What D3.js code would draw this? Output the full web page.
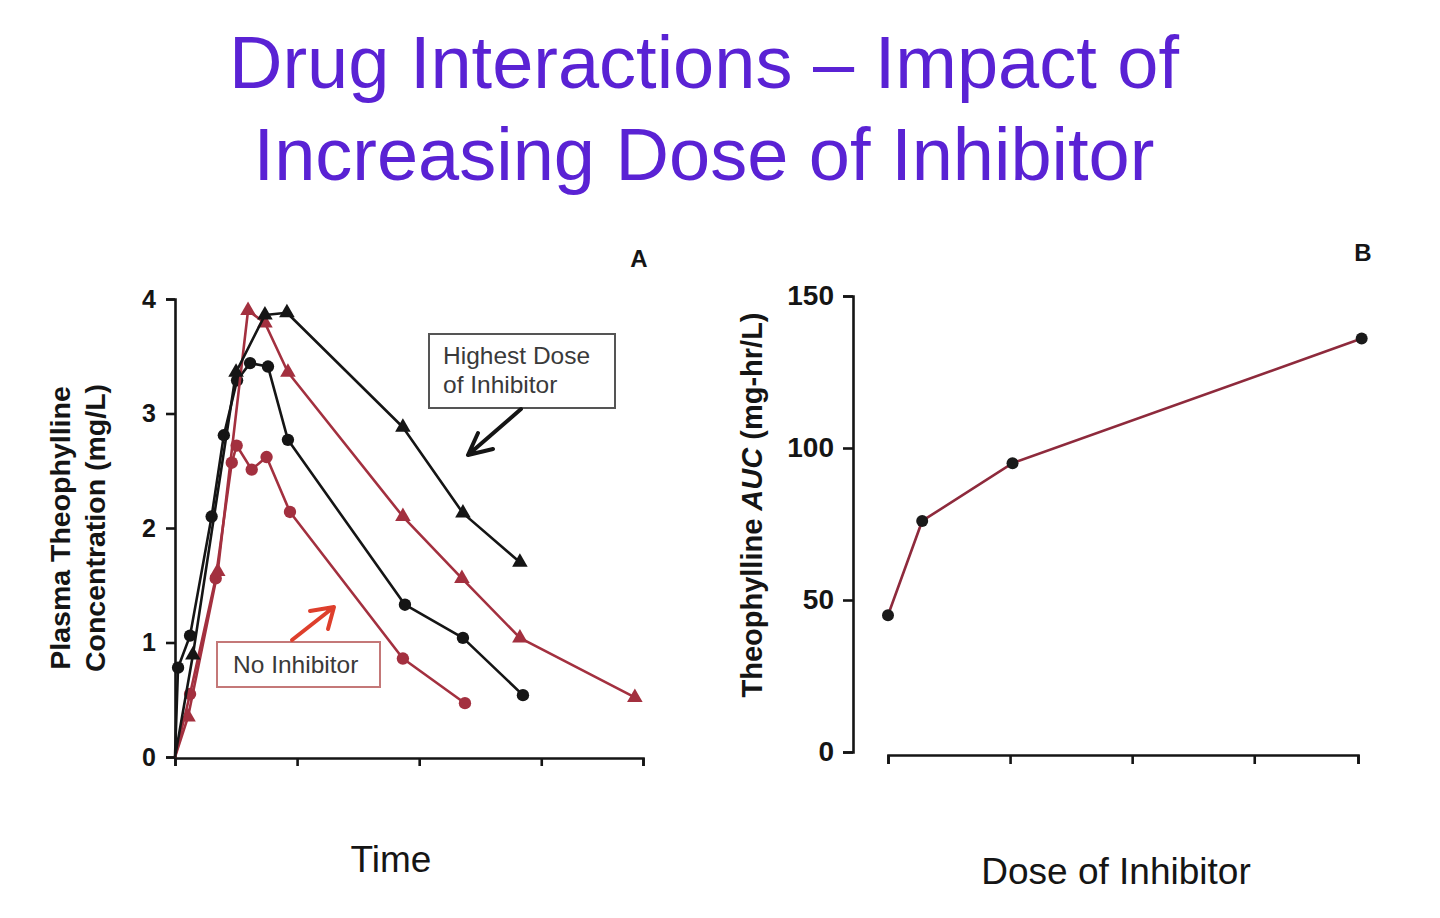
<!DOCTYPE html>
<html>
<head>
<meta charset="utf-8">
<script src="https://cdn.jsdelivr.net/npm/d3@7"></script>
<style>
  html, body { margin: 0; padding: 0; background: #ffffff; }
  svg { display: block; font-family: "Liberation Sans", Arial, sans-serif; }
</style>
</head>
<body>
<svg id="chart" width="1440" height="918"></svg>
<script>
// ---------- DATA ----------
const titleLines = ["Drug Interactions \u2013 Impact of", "Increasing Dose of Inhibitor"];

// Panel A: time-course of plasma theophylline (mg/L)
const timeTicks = [0, 6, 12, 18, 23];
const concTicks = [0, 1, 2, 3, 4];

const noInhibitorTime = [0, 0.74, 2.0, 2.79, 3.03, 3.77, 4.5, 5.65, 11.2, 14.25];
const noInhibitorConc = [0, 0.55, 1.56, 2.57, 2.72, 2.51, 2.62, 2.14, 0.86, 0.47];

const lowDoseTime = [0, 0.15, 0.74, 1.8, 2.4, 3.05, 3.69, 4.57, 5.55, 11.3, 14.15, 17.1];
const lowDoseConc = [0, 0.78, 1.06, 2.10, 2.81, 3.29, 3.44, 3.41, 2.77, 1.33, 1.04, 0.54];

const midDoseTime = [0, 0.64, 2.1, 3.59, 4.42, 5.55, 11.2, 14.1, 16.95, 22.6];
const midDoseConc = [0, 0.35, 1.62, 3.90, 3.79, 3.36, 2.10, 1.56, 1.04, 0.52];

const highDoseTime = [0, 0.88, 3.0, 4.42, 5.5, 11.2, 14.15, 16.95];
const highDoseConc = [0, 0.89, 3.36, 3.86, 3.88, 2.88, 2.13, 1.70];

// Panel B: AUC vs inhibitor dose
const doseTicks = [0, 1, 2, 3, 3.85];
const aucTicks = [0, 50, 100, 150];
const doseValues = [0, 0.28, 1.02, 3.88];
const aucValues = [45, 76, 95, 136];

// ---------- STYLE ----------
const RED = "#a3303f";
const BLACK = "#151515";

const svg = d3.select("#chart");

// Title
svg.append("g").selectAll("text").data(titleLines).join("text")
  .attr("x", 704).attr("y", (d, i) => 88 + i * 92)
  .attr("text-anchor", "middle")
  .attr("font-size", 74)
  .attr("fill", "#5a22d4")
  .text(d => d);

// ---------- PANEL A ----------
const xA = d3.scaleLinear().domain([0, 23]).range([175, 643]);
const yA = d3.scaleLinear().domain([0, 4]).range([757, 299]);

const axisA_y = svg.append("g").attr("transform", `translate(${xA(0)},0)`)
  .call(d3.axisLeft(yA).tickValues(concTicks).tickFormat(d3.format("d")).tickSizeOuter(0).tickSize(9).tickPadding(10));
const axisA_x = svg.append("g").attr("transform", `translate(0,${yA(0) + 1})`)
  .call(d3.axisBottom(xA).tickValues(timeTicks).tickFormat("").tickSizeOuter(0).tickSize(8));

[axisA_y, axisA_x].forEach(g => {
  g.select(".domain").attr("stroke", BLACK).attr("stroke-width", 2.6);
  g.selectAll(".tick line").attr("stroke", BLACK).attr("stroke-width", 2.6);
});
axisA_y.selectAll(".tick text").attr("font-size", 25).attr("font-weight", "bold")
  .attr("fill", BLACK).attr("font-family", "Liberation Sans, Arial, sans-serif");

const seriesA = [
  {t: noInhibitorTime, c: noInhibitorConc, color: RED, marker: "circle"},
  {t: lowDoseTime, c: lowDoseConc, color: BLACK, marker: "circle"},
  {t: midDoseTime, c: midDoseConc, color: RED, marker: "triangle"},
  {t: highDoseTime, c: highDoseConc, color: BLACK, marker: "triangle"}
];

const lineA = d3.line().x(d => xA(d[0])).y(d => yA(d[1]));
const triSym = d3.symbol().type(d3.symbolTriangle).size(105);
const cirSym = d3.symbol().type(d3.symbolCircle).size(120);

seriesA.forEach(s => {
  const pts = s.t.map((t, i) => [t, s.c[i]]);
  svg.append("path").datum(pts)
    .attr("d", lineA).attr("fill", "none")
    .attr("stroke", s.color).attr("stroke-width", 2.6).attr("stroke-linejoin", "round");
  svg.append("g").selectAll("path").data(pts.slice(1)).join("path")
    .attr("transform", d => `translate(${xA(d[0])},${yA(d[1])})`)
    .attr("d", s.marker === "circle" ? cirSym : triSym)
    .attr("fill", s.color);
});

// Panel A labels
svg.append("text").attr("x", 639).attr("y", 267).attr("text-anchor", "middle")
  .attr("font-size", 24).attr("font-weight", "bold").attr("fill", BLACK).text("A");

const yLabA = svg.append("g").attr("transform", "translate(0,528)");
["Plasma Theophylline", "Concentration (mg/L)"].forEach((t, i) => {
  yLabA.append("text")
    .attr("transform", `translate(${70 + i * 35},0) rotate(-90)`)
    .attr("text-anchor", "middle").attr("font-size", 28.5).attr("font-weight", "bold")
    .attr("fill", BLACK).text(t);
});

svg.append("text").attr("x", 391).attr("y", 872).attr("text-anchor", "middle")
  .attr("font-size", 37).attr("fill", BLACK).text("Time");

// Annotation: Highest dose
svg.append("rect").attr("x", 429).attr("y", 334).attr("width", 186).attr("height", 74)
  .attr("fill", "#fff").attr("stroke", "#555").attr("stroke-width", 2);
svg.append("g").selectAll("text").data(["Highest Dose", "of Inhibitor"]).join("text")
  .attr("x", 443).attr("y", (d, i) => 364 + i * 29)
  .attr("font-size", 24.5).attr("fill", "#3a3a3a").text(d => d);
svg.append("path").attr("d", "M521,409 L468,455 M478,433 L468,455 L493,449")
  .attr("fill", "none").attr("stroke", BLACK).attr("stroke-width", 4)
  .attr("stroke-linecap", "round").attr("stroke-linejoin", "round");

// Annotation: No inhibitor
svg.append("rect").attr("x", 217).attr("y", 642).attr("width", 163).attr("height", 45)
  .attr("fill", "#fff").attr("stroke", "#c47878").attr("stroke-width", 2);
svg.append("text").attr("x", 233).attr("y", 673)
  .attr("font-size", 24.5).attr("fill", "#3a3a3a").text("No Inhibitor");
svg.append("path").attr("d", "M292,640 L334,607 M310,611 L334,607 L328,629")
  .attr("fill", "none").attr("stroke", "#de3f2c").attr("stroke-width", 4)
  .attr("stroke-linecap", "round").attr("stroke-linejoin", "round");

// ---------- PANEL B ----------
const xB = d3.scaleLinear().domain([0, 3.85]).range([888, 1358]);
const yB = d3.scaleLinear().domain([0, 150]).range([752, 296]);

const axisB_y = svg.append("g").attr("transform", "translate(853,0)")
  .call(d3.axisLeft(yB).tickValues(aucTicks).tickFormat(d3.format("d")).tickSizeOuter(0).tickSize(10).tickPadding(9));
const axisB_x = svg.append("g").attr("transform", "translate(0,755)")
  .call(d3.axisBottom(xB).tickValues(doseTicks).tickFormat("").tickSizeOuter(0).tickSize(9));
[axisB_y, axisB_x].forEach(g => {
  g.select(".domain").attr("stroke", BLACK).attr("stroke-width", 2.6);
  g.selectAll(".tick line").attr("stroke", BLACK).attr("stroke-width", 2.6);
});
axisB_y.selectAll(".tick text").attr("font-size", 28).attr("font-weight", "bold")
  .attr("fill", BLACK).attr("font-family", "Liberation Sans, Arial, sans-serif");

const ptsB = doseValues.map((d, i) => [d, aucValues[i]]);
svg.append("path").datum(ptsB)
  .attr("d", d3.line().x(d => xB(d[0])).y(d => yB(d[1])))
  .attr("fill", "none").attr("stroke", "#8e2a3c").attr("stroke-width", 2.6);
svg.append("g").selectAll("circle").data(ptsB).join("circle")
  .attr("cx", d => xB(d[0])).attr("cy", d => yB(d[1])).attr("r", 6)
  .attr("fill", "#1a1a1a");

svg.append("text").attr("x", 1363).attr("y", 261).attr("text-anchor", "middle")
  .attr("font-size", 24).attr("font-weight", "bold").attr("fill", BLACK).text("B");

const yLabB = svg.append("text")
  .attr("transform", "translate(762,505) rotate(-90)")
  .attr("text-anchor", "middle").attr("font-size", 29).attr("font-weight", "bold").attr("fill", BLACK);
yLabB.append("tspan").text("Theophylline ");
yLabB.append("tspan").attr("font-style", "italic").text("AUC");
yLabB.append("tspan").text(" (mg-hr/L)");

svg.append("text").attr("x", 1116).attr("y", 884).attr("text-anchor", "middle")
  .attr("font-size", 37).attr("fill", BLACK).text("Dose of Inhibitor");
</script>
</body>
</html>
